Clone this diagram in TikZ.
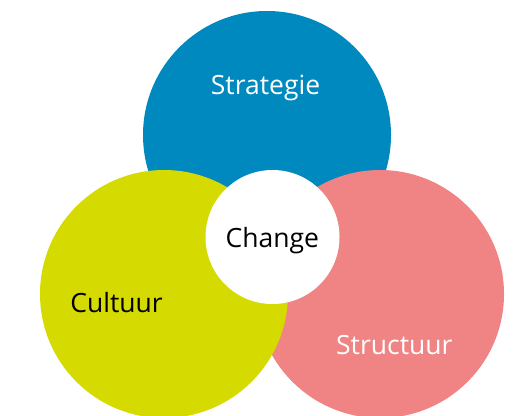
\documentclass[tikz,border=0pt]{standalone}
\usepackage{fontspec}
\setmainfont{Open Sans}
\definecolor{cblue}{RGB}{0,137,190}
\definecolor{cyellow}{RGB}{213,218,0}
\definecolor{cpink}{RGB}{240,131,131}
\begin{document}
\begin{tikzpicture}[x=1pt,y=-1pt,
  disc/.style={circle,inner sep=0pt,minimum size=248pt},
  lbl/.style={font=\fontsize{26.5}{30}\selectfont,inner sep=0pt,anchor=base}]
\useasboundingbox (0,0) rectangle (513,415);
\begin{scope}
\clip (0,0) rectangle (513,415);
% three overlapping discs
\node[disc,fill=cblue] (strat) at (267,135) {};
\node[disc,fill=cpink] (struc) at (380,294) {};
\node[disc,fill=cyellow] (cult) at (164,294) {};
% centre disc
\node[circle,fill=white,inner sep=0pt,minimum size=134pt] (chg) at (272.5,237) {};
\end{scope}
\node[lbl,text=white] at (265.5,94) {Strategie};
\node[lbl,text=black] at (272.3,247) {Change};
\node[lbl,text=black] at (116.5,312.5) {Cultuur};
\node[lbl,text=white] at (394.3,354) {Structuur};
\end{tikzpicture}
\end{document}
